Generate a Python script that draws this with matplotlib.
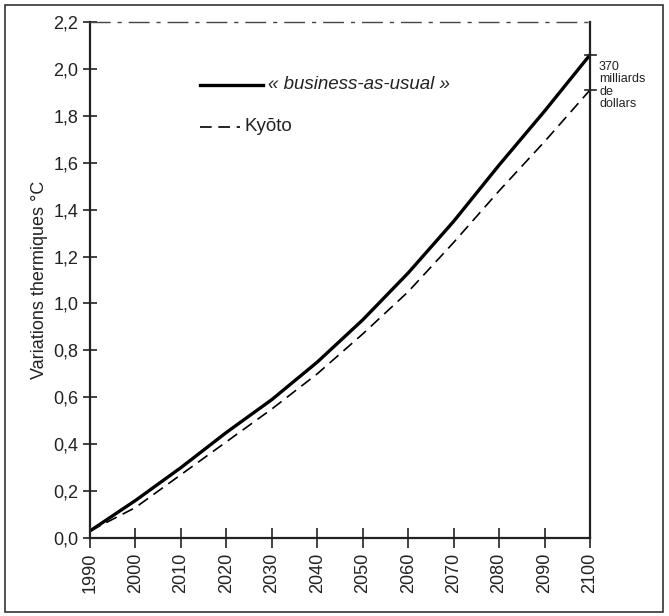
import matplotlib
matplotlib.use("Agg")
import matplotlib.pyplot as plt
import matplotlib.transforms as mtransforms
from matplotlib.patches import Rectangle

years = [1990, 2000, 2010, 2020, 2030, 2040, 2050, 2060, 2070, 2080, 2090, 2100]
business = [0.03, 0.16, 0.30, 0.45, 0.59, 0.75, 0.93, 1.13, 1.35, 1.59, 1.82, 2.06]
kyoto = [0.03, 0.13, 0.27, 0.41, 0.55, 0.70, 0.87, 1.05, 1.26, 1.48, 1.69, 1.91]
yticks = [0.0, 0.2, 0.4, 0.6, 0.8, 1.0, 1.2, 1.4, 1.6, 1.8, 2.0, 2.2]
ytick_labels = ["0,0", "0,2", "0,4", "0,6", "0,8", "1,0", "1,2", "1,4", "1,6", "1,8", "2,0", "2,2"]
xtick_labels = [str(y) for y in years]

plt.rcParams['font.family'] = ['Liberation Sans', 'DejaVu Sans']

fig = plt.figure(figsize=(6.69, 6.16), dpi=100)
ax = fig.add_axes([90/669, 78/616, 500/669, 516/616])

ax.plot(years, business, color='black', lw=2.4, solid_capstyle='round', solid_joinstyle='round')
ax.plot(years, kyoto, color='black', lw=1.2, dashes=(7, 4))

ax.set_xlim(1990, 2100)
ax.set_ylim(0, 2.2)
ax.set_yticks(yticks)
ax.set_yticklabels(ytick_labels, fontsize=13, color='#222222')
ax.set_xticks(years)
ax.set_xticklabels(xtick_labels, rotation=90, fontsize=13, color='#222222')
ax.tick_params(axis='both', direction='inout', length=10, width=1.2, colors='#222222')
ax.tick_params(axis='x', length=14)

for s in ['left', 'bottom', 'right']:
    ax.spines[s].set_linewidth(1.6)
    ax.spines[s].set_color('#222222')
ax.spines['top'].set_linewidth(1.0)
ax.spines['top'].set_color('#444444')
ax.spines['top'].set_linestyle((0, (14, 6, 2, 6)))

ax.set_ylabel("Variations thermiques °C", fontsize=13, color='#222222', labelpad=4)

# legend drawn manually in axes coordinates
ax.plot([0.22, 0.345], [0.878, 0.878], transform=ax.transAxes, color='black', lw=2.4)
ax.text(0.355, 0.878, "« business-as-usual »", transform=ax.transAxes,
        fontsize=13.5, style='italic', va='center', ha='left', color='#222222')
ax.plot([0.22, 0.30], [0.797, 0.797], transform=ax.transAxes, color='black', lw=1.2, dashes=(7, 4))
ax.text(0.31, 0.797, "Kyōto", transform=ax.transAxes,
        fontsize=13.5, va='center', ha='left', color='#222222')

# right-side markers and annotation
blend = mtransforms.blended_transform_factory(ax.transAxes, ax.transData)
for v in (business[-1], kyoto[-1]):
    ax.plot([0.99, 1.012], [v, v], transform=blend, color='#222222', lw=1.2, clip_on=False)
ax.text(1.018, 1.93, "370\nmilliards\nde\ndollars", transform=blend,
        fontsize=9, va='center', ha='left', color='#222222', linespacing=1.05, clip_on=False)

fig.patches.append(Rectangle((5/669, 4/616), 658/669, 607/616, transform=fig.transFigure,
                             fill=False, edgecolor='#333333', lw=1.2))

fig.savefig("out.png", dpi=100)
